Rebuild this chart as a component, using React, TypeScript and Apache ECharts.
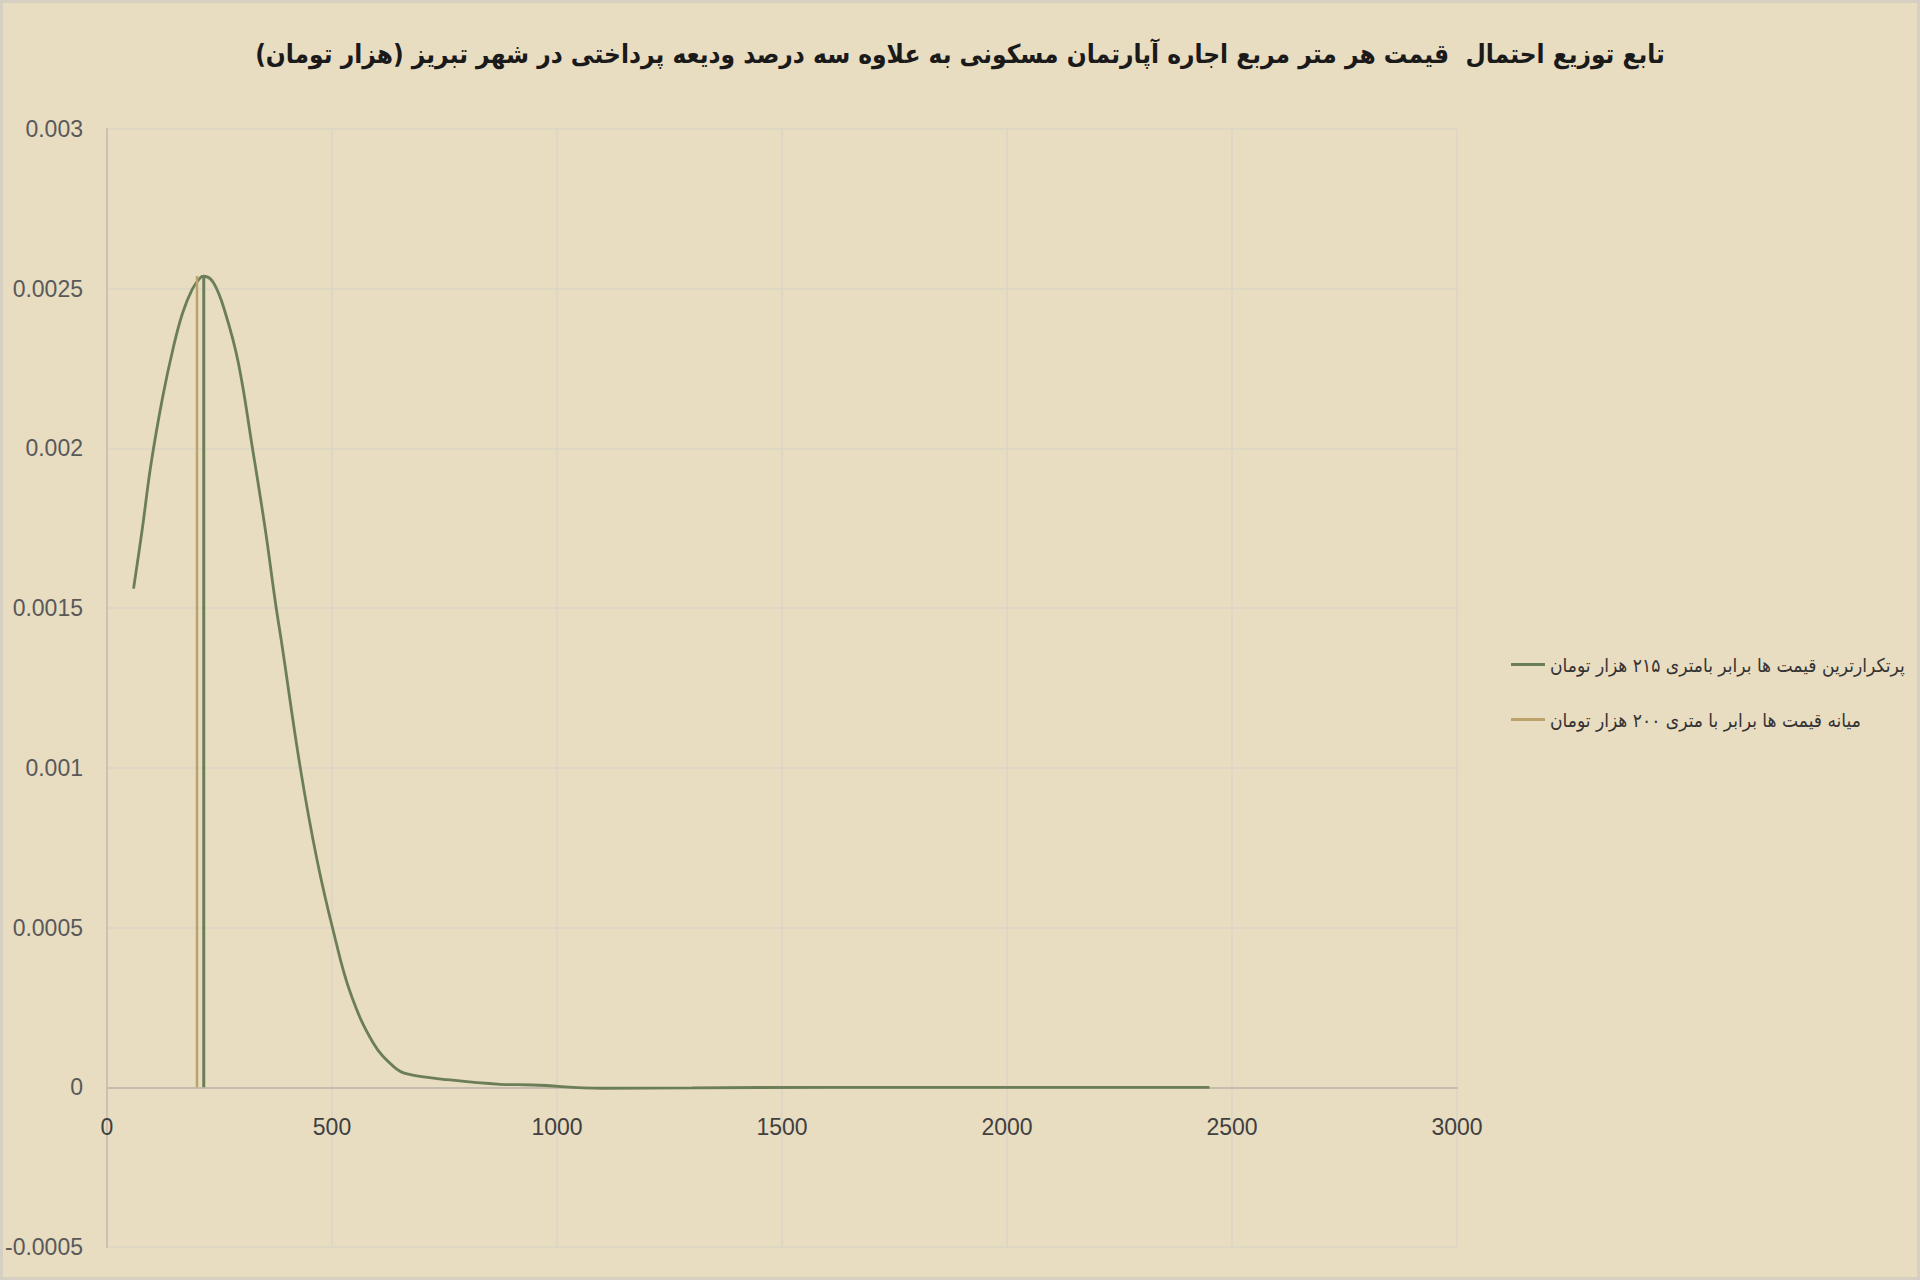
import { useEffect, useRef } from "react";
import * as echarts from "echarts";

const titleText =
  "تابع توزیع احتمال  قیمت هر متر مربع اجاره آپارتمان مسکونی به علاوه سه درصد ودیعه پرداختی در شهر تبریز (هزار تومان)";
const modeName = "پرتکرارترین قیمت ها برابر بامتری ۲۱۵ هزار تومان";
const medianName = "میانه قیمت ها برابر با متری ۲۰۰ هزار تومان";

// density curve
const curveX = [
  59, 78, 98, 124, 148, 168, 189, 207, 215, 237, 263, 292, 323, 352, 374, 389, 430, 467, 504, 541, 592,
  637, 667, 763, 874, 948, 1100, 1300, 1600, 2000, 2450
];
const curveY = [
  0.001561, 0.001744, 0.001953, 0.002163, 0.00232, 0.002424, 0.002497, 0.002534, 0.002539, 0.002518,
  0.002424, 0.002267, 0.002003, 0.001744, 0.00152, 0.001383, 0.000996, 0.00071, 0.000483, 0.000295,
  0.000138, 0.0000647, 0.0000417, 0.0000229, 0.0000094, 0.0000072, -0.000003, -0.000002, 0, 0, 0
];

const modeX = [215, 215];
const modeY = [0, 0.00254];
const medianX = [200, 200];
const medianY = [0, 0.00254];

const Y_MIN = -0.0005;
const Y_MAX = 0.003;

const GREEN = "#6b7e57";
const TAN = "#bba26b";
const RLM = "\u200F";
const FA_FONT = "DejaVu Sans Condensed, DejaVu Sans";

const GRID_TOP = 129;
const GRID_BOTTOM = 33;
const CHART_H = 1280;

export default function App() {
  const ref = useRef<HTMLDivElement | null>(null);

  useEffect(() => {
    if (!ref.current) return;
    const chart = echarts.init(ref.current, undefined, { renderer: "svg" });

    const pair = (xs: number[], ys: number[]) => xs.map((x, i) => [x, ys[i]]);
    // lift the x axis from the grid bottom up to y = 0, as in the source
    const gridH = CHART_H - GRID_TOP - GRID_BOTTOM;
    const zeroLift = ((0 - Y_MIN) / (Y_MAX - Y_MIN)) * gridH;

    const option: echarts.EChartsOption = {
      animation: false,
      backgroundColor: "#e8dcc1",
      title: {
        text: titleText + RLM,
        left: "center",
        top: 36,
        textStyle: {
          fontFamily: FA_FONT,
          fontWeight: "bold",
          fontSize: 26,
          color: "#1a1a1a"
        }
      },
      graphic: [
        {
          type: "rect",
          shape: { x: 1.5, y: 1.5, width: 1917, height: 1277 },
          style: { fill: "none", stroke: "#d6d0c3", lineWidth: 3 },
          silent: true
        }
      ],
      legend: {
        orient: "vertical",
        left: 1506,
        top: 650,
        itemGap: 36,
        itemWidth: 34,
        itemHeight: 3,
        icon: "rect",
        data: [modeName, medianName],
        textStyle: {
          fontFamily: FA_FONT,
          fontSize: 19,
          color: "#333333"
        }
      },
      grid: {
        left: 107,
        right: 463,
        top: GRID_TOP,
        bottom: GRID_BOTTOM,
        containLabel: false,
        outerBoundsMode: "none"
      } as any,
      xAxis: {
        type: "value",
        min: 0,
        max: 3000,
        interval: 500,
        position: "bottom",
        offset: -zeroLift,
        axisLine: { onZero: false, lineStyle: { color: "#c4bdae", width: 2 } },
        axisTick: { show: false },
        axisLabel: {
          margin: 28,
          fontFamily: "Liberation Sans",
          fontSize: 23,
          color: "#404040",
          formatter: (v: number) => String(v)
        },
        splitLine: { show: true, lineStyle: { color: "#ddd6c5", width: 1.5 } }
      },
      yAxis: {
        type: "value",
        min: Y_MIN,
        max: Y_MAX,
        interval: 0.0005,
        axisLine: { show: true, onZero: false, lineStyle: { color: "#c9c2b3", width: 2 } },
        axisTick: { show: false },
        axisLabel: {
          margin: 24,
          fontFamily: "Liberation Sans",
          fontSize: 23,
          color: "#595959",
          formatter: (v: number) => String(parseFloat(v.toFixed(4)))
        },
        splitLine: { show: true, lineStyle: { color: "#ddd6c5", width: 1.5 } }
      },
      series: [
        {
          type: "line",
          name: "curve",
          data: pair(curveX, curveY),
          smooth: 0.4,
          showSymbol: false,
          lineStyle: { color: GREEN, width: 2.8 },
          itemStyle: { color: GREEN }
        },
        {
          type: "line",
          name: medianName,
          data: pair(medianX, medianY),
          showSymbol: false,
          lineStyle: { color: TAN, width: 2.5 },
          itemStyle: { color: TAN }
        },
        {
          type: "line",
          name: modeName,
          data: pair(modeX, modeY),
          showSymbol: false,
          lineStyle: { color: GREEN, width: 3 },
          itemStyle: { color: GREEN }
        }
      ]
    };

    chart.setOption(option);
    return () => {
      chart.dispose();
    };
  }, []);

  return (
    <div
      ref={ref}
      style={{ position: "fixed", left: 0, top: 0, width: 1920, height: CHART_H }}
    />
  );
}
